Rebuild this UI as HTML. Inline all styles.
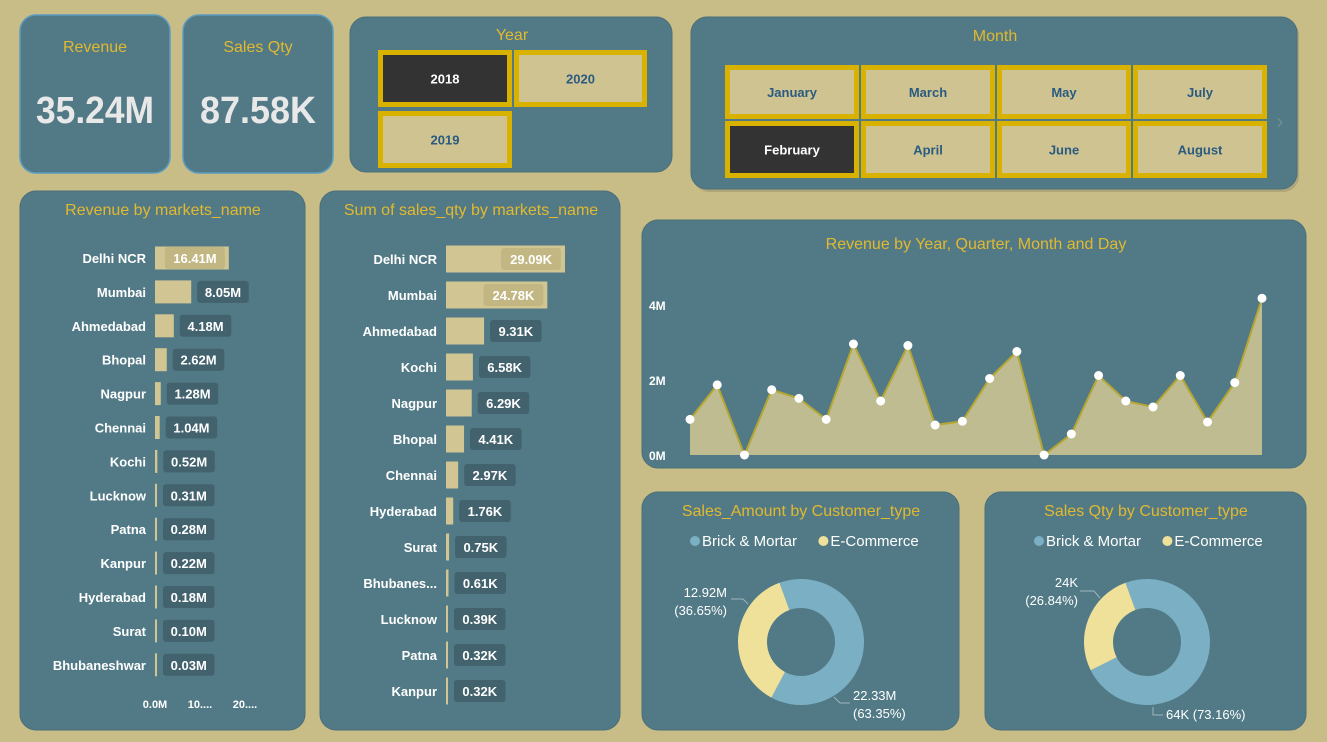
<!DOCTYPE html>
<html><head><meta charset="utf-8">
<style>
html,body{margin:0;padding:0;background:#C8BD87;width:1327px;height:742px;overflow:hidden}
svg text{font-family:"Liberation Sans Narrow","Liberation Sans",sans-serif}
.t{fill:#E2B92E;font-size:16px}
.b{font-family:"Liberation Sans",sans-serif!important;font-weight:bold}
</style></head><body>
<svg id="s" width="1327" height="742" xmlns="http://www.w3.org/2000/svg">
<rect x="0" y="0" width="1327" height="742" fill="#C8BD87"/>
<g>
<rect x="20" y="15" width="150" height="158" rx="16" fill="#527A86" stroke="#5A9CC0" stroke-width="1.5"/>
<text x="95" y="52" text-anchor="middle" class="t">Revenue</text>
<text x="95" y="123" text-anchor="middle" fill="#E8E8E8" font-size="38" font-weight="bold" textLength="118" lengthAdjust="spacingAndGlyphs">35.24M</text>
</g>
<g>
<rect x="183" y="15" width="150" height="158" rx="16" fill="#527A86" stroke="#5A9CC0" stroke-width="1.5"/>
<text x="258" y="52" text-anchor="middle" class="t">Sales Qty</text>
<text x="258" y="123" text-anchor="middle" fill="#E8E8E8" font-size="38" font-weight="bold" textLength="116" lengthAdjust="spacingAndGlyphs">87.58K</text>
</g>
<g>
<rect x="350" y="17" width="322" height="155" rx="16" fill="#527A86" stroke="#4A6E7A"/>
<text x="512" y="40" text-anchor="middle" class="t">Year</text>
</g>
<g id="years"></g>
<g>
<rect x="693" y="19" width="606" height="173" rx="16" fill="#9C9470" opacity="0.6"/>
<rect x="691" y="17" width="606" height="172" rx="16" fill="#527A86" stroke="#4A6E7A"/>
<text x="995" y="41" text-anchor="middle" class="t">Month</text>
<text x="1280" y="128" text-anchor="middle" fill="#6E8F99" font-size="20">›</text>
</g>
<g id="months"></g>
<rect x="20" y="191" width="285" height="539" rx="16" fill="#527A86" stroke="#4A6E7A"/>
<text x="163" y="215" text-anchor="middle" class="t">Revenue by markets_name</text>
<g id="rev"></g>
<rect x="320" y="191" width="300" height="539" rx="16" fill="#527A86" stroke="#4A6E7A"/>
<text x="471" y="215" text-anchor="middle" class="t">Sum of sales_qty by markets_name</text>
<g id="qty"></g>
<rect x="642" y="220" width="664" height="248" rx="16" fill="#527A86" stroke="#4A6E7A"/>
<text x="976" y="249" text-anchor="middle" class="t">Revenue by Year, Quarter, Month and Day</text>
<g id="line"></g>
<rect x="642" y="492" width="317" height="238" rx="16" fill="#527A86" stroke="#4A6E7A"/>
<text x="801" y="516" text-anchor="middle" class="t">Sales_Amount by Customer_type</text>
<rect x="985" y="492" width="321" height="238" rx="16" fill="#527A86" stroke="#4A6E7A"/>
<text x="1146" y="516" text-anchor="middle" class="t">Sales Qty by Customer_type</text>
<g id="d1"></g><g id="d2"></g>
</svg>
<script>
const NS="http://www.w3.org/2000/svg";
const revMarkets=["Delhi NCR","Mumbai","Ahmedabad","Bhopal","Nagpur","Chennai","Kochi","Lucknow","Patna","Kanpur","Hyderabad","Surat","Bhubaneshwar"];
const revValues=[16.41,8.05,4.18,2.62,1.28,1.04,0.52,0.31,0.28,0.22,0.18,0.10,0.03];
const revTicks=["0.0M","10....","20...."];
const qtyMarkets=["Delhi NCR","Mumbai","Ahmedabad","Kochi","Nagpur","Bhopal","Chennai","Hyderabad","Surat","Bhubanes...","Lucknow","Patna","Kanpur"];
const qtyValues=[29.09,24.78,9.31,6.58,6.29,4.41,2.97,1.76,0.75,0.61,0.39,0.32,0.32];
const trendValues=[0.95,1.87,0,1.74,1.51,0.95,2.96,1.44,2.92,0.8,0.9,2.04,2.76,0,0.56,2.12,1.44,1.28,2.12,0.88,1.93,4.18];
const trendTicks=[0,2,4];
const custTypes=["Brick & Mortar","E-Commerce"];
const amountValues=[22.33,12.92];
const amountLabels=["22.33M","12.92M"];
const qtyCustValues=[64.07,23.51];
const qtyCustLabels=["64K","24K"];
const years=["2018","2020","2019"];
const months=["January","March","May","July","February","April","June","August"];

function el(tag,attrs,parent,text){const e=document.createElementNS(NS,tag);for(const k in attrs)e.setAttribute(k,attrs[k]);if(text!==undefined)e.textContent=text;parent.appendChild(e);return e;}

function button(parent,x,y,w,h,label,sel){
  const g=el("g",{},parent);
  
  
  el("rect",{x:x,y:y,width:w,height:h,fill:"#D9B200"},g);
  el("rect",{x:x+5,y:y+5,width:w-10,height:h-10,fill:sel?"#333333":"#CFC491"},g);
  el("text",{x:x+w/2,y:y+h/2+5,"text-anchor":"middle",fill:sel?"#FFFFFF":"#2A5A80","font-size":"13","font-weight":"bold",class:"b"},g,label);
}
const yg=document.getElementById("years");
button(yg,378,50,134,57,years[0],true);
button(yg,514,50,133,57,years[1],false);
button(yg,378,111,134,57,years[2],false);
const mg=document.getElementById("months");
const mx=[725,861,997,1133];
months.forEach((m,i)=>{button(mg,mx[i%4],i<4?65:121,134,i<4?54:57,m,m==="February");});

function bars(gid,cats,vals,x0,scale,y0,step,bh,labelX,suffix,inside){
  const g=document.getElementById(gid);
  cats.forEach((c,i)=>{
    const cy=y0+i*step, w=Math.max(vals[i]*scale,2);
    const t=el("text",{x:labelX,y:cy+5,"text-anchor":"end",fill:"#FFFFFF","font-size":"13","font-weight":"bold",class:"b"},g,c);
    
    
    const r=el("rect",{x:x0,y:cy-bh/2,width:w,height:bh,fill:"#D0C593"},g);
    
    
    const lbl=vals[i].toFixed(2)+suffix, lw=lbl.length*8.3+10;
    let bx, fill;
    if(w>inside){bx=x0+w-lw-4;fill="#C2B783";}else{bx=x0+w+6;fill="#42626D";}
    const lr=el("rect",{x:bx,y:cy-11,width:lw,height:22,rx:3,fill:fill},g);
    
    
    const lt=el("text",{x:bx+lw/2,y:cy+5,"text-anchor":"middle",fill:"#FFFFFF","font-size":"13","font-weight":"bold",class:"b"},g,lbl);
    
    
  });
}
bars("rev",revMarkets,revValues,155,4.5,258,33.9,23,146,"M",70);
bars("qty",qtyMarkets,qtyValues,446,4.09,259,36,27,437,"K",80);
const rg=document.getElementById("rev");
revTicks.forEach((t,i)=>{const e=el("text",{x:155+i*45,y:708,"text-anchor":"middle",fill:"#FFFFFF","font-size":"11","font-weight":"bold",class:"b"},rg,t);

});

const lg=document.getElementById("line");
const lx0=690,lx1=1262,ly0=455,lpy=37.5;
const X=i=>lx0+i*(lx1-lx0)/(trendValues.length-1), Y=v=>ly0-v*lpy;
trendTicks.forEach(v=>{const e=el("text",{x:649,y:Y(v)+5,fill:"#FFFFFF","font-size":"12","font-weight":"bold"},lg,v+"M");

});
let pts=trendValues.map((v,i)=>X(i)+","+Y(v)).join(" ");
const area=el("polygon",{points:X(0)+","+ly0+" "+pts+" "+X(trendValues.length-1)+","+ly0,fill:"#BFBC91"},lg);


const pl=el("polyline",{points:pts,fill:"none",stroke:"#B5A632","stroke-width":"2"},lg);


trendValues.forEach((v,i)=>{const c=el("circle",{cx:X(i),cy:Y(v),r:4.5,fill:"#FFFFFF"},lg);

});

function donut(gid,cx,cy,vals,labels,legX,lblPos){
  const g=document.getElementById(gid);
  const cols=["#7BAFC3","#F0E19A"];
  let lx=legX;
  custTypes.forEach((c,i)=>{
    const d=el("circle",{cx:lx+5,cy:541,r:5,fill:cols[i]},g);
    
    
    const t=el("text",{x:lx+12,y:546,fill:"#FFFFFF","font-size":"15"},g,c);
    
    
    lx+=12+c.length*7.6+10;
  });
  const tot=vals.reduce((a,b)=>a+b,0);
  let a0=-20*Math.PI/180;const R=63,r=34;
  vals.forEach((v,i)=>{
    const a1=a0+v/tot*2*Math.PI;
    const p=(a,rad)=>[cx+rad*Math.sin(a),cy-rad*Math.cos(a)];
    const [x1,y1]=p(a0,R),[x2,y2]=p(a1,R),[x3,y3]=p(a1,r),[x4,y4]=p(a0,r);
    const lf=(a1-a0)>Math.PI?1:0;
    const s=el("path",{d:`M${x1},${y1}A${R},${R} 0 ${lf} 1 ${x2},${y2}L${x3},${y3}A${r},${r} 0 ${lf} 0 ${x4},${y4}Z`,fill:cols[i]},g);
    
    
    a0=a1;
    const pct="("+(v/tot*100).toFixed(2)+"%)";
    const lp=lblPos[i];
    el("polyline",{points:lp.line,fill:"none",stroke:"#9FB5BC","stroke-width":"1"},g);
    lp.lines(labels[i],pct).forEach((ln,k)=>{const t=el("text",{x:lp.x,y:lp.y+k*18,"text-anchor":lp.anchor,fill:"#FFFFFF","font-size":"13"},g,ln);
    
    });
  });
}
donut("d1",801,642,amountValues,amountLabels,690,[
 {x:853,y:700,anchor:"start",line:"834,697 840,703 850,703",lines:(a,b)=>[a,b]},
 {x:727,y:597,anchor:"end",line:"731,599 743,599 748,604",lines:(a,b)=>[a,b]}]);
donut("d2",1147,642,qtyCustValues,qtyCustLabels,1034,[
 {x:1166,y:719,anchor:"start",line:"1153,707 1153,715 1163,715",lines:(a,b)=>[a+" "+b]},
 {x:1078,y:587,anchor:"end",line:"1080,591 1094,591 1100,598",lines:(a,b)=>[a,b]}]);
</script>
</body></html>
